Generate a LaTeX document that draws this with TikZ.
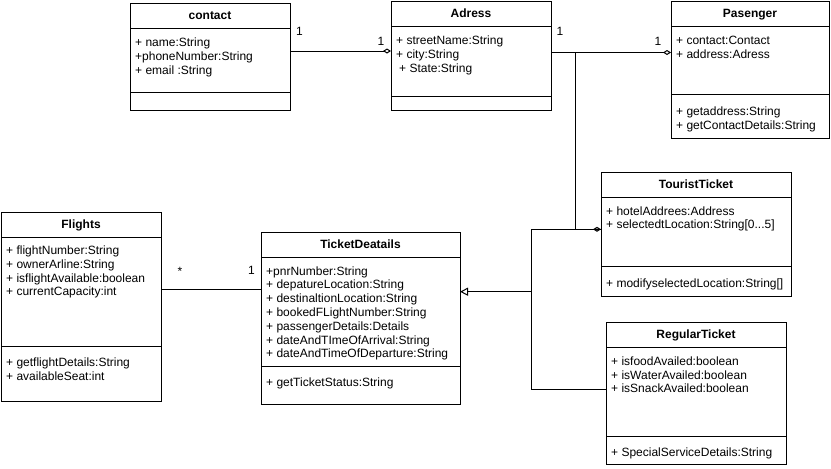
\documentclass[tikz,border=0pt]{standalone}
\usepackage{fontspec}
\setmainfont{Liberation Sans}
\usetikzlibrary{arrows.meta}

% one UML class box: name, x1, y1, x2, y-header-line, y-separator, y2, title
\newcommand{\umlclass}[8]{%
  \node[classbox, minimum width={#4-#2}, minimum height={#7-#3}, anchor=north west] (#1) at (#2,#3) {};
  \draw[umlline] (#2,#5) -- (#4,#5);
  \draw[umlline] (#2,#6) -- (#4,#6);
  \node[titletext] (#1-title) at ({(#2+#4)/2},{(#3+#5)/2+4.3}) {#8};
}
% one member line: x, baseline y, text
\newcommand{\member}[3]{%
  \node[membertext] at (#1,#2) {#3};
}

\begin{document}
\begin{tikzpicture}[x=1pt,y=-1pt,
  umlline/.style={draw=black, line width=1pt},
  classbox/.style={draw=black, line width=1pt, fill=white, inner sep=0pt, outer sep=0pt},
  titletext/.style={font=\fontsize{12}{14}\selectfont\bfseries, anchor=base, inner sep=0pt},
  membertext/.style={font=\fontsize{12}{14}\selectfont, anchor=base west, inner sep=0pt},
  multlabel/.style={font=\fontsize{12}{14}\selectfont, inner sep=0pt},
  assoc/.style={umlline, -{Diamond[open, length=8pt, width=5pt, line width=1pt]}},
  assocdark/.style={umlline, -{Diamond[length=8pt, width=5pt, line width=1pt, fill=gray!60]}},
  inherit/.style={umlline, -{Triangle[open, length=8pt, width=8pt, line width=1pt]}},
]
\useasboundingbox[fill=white] (0,0) rectangle (831,469);

% ---- classes ----
\umlclass{contact}{130}{3}{290}{28}{92}{110}{contact}
\member{135}{46}{+ name:String}
\member{135}{60}{+phoneNumber:String}
\member{135}{74}{+ email :String}

\umlclass{adress}{391}{1}{551}{26}{96}{110}{Adress}
\member{396}{44}{+ streetName:String}
\member{396}{58}{+ city:String}
\member{399}{72}{+ State:String}

\umlclass{pasenger}{671}{1}{829}{26}{94}{138}{Pasenger}
\member{676}{44}{+ contact:Contact}
\member{676}{58}{+ address:Adress}
\member{676}{115.5}{+ getaddress:String}
\member{676}{129.5}{+ getContactDetails:String}

\umlclass{flights}{1}{212}{161}{237}{346}{401}{Flights}
\member{6}{254.5}{+ flightNumber:String}
\member{6}{268.3}{+ ownerArline:String}
\member{6}{282.1}{+ isflightAvailable:boolean}
\member{6}{295.9}{+ currentCapacity:int}
\member{6}{366.5}{+ getflightDetails:String}
\member{6}{380.3}{+ availableSeat:int}

\umlclass{tdetails}{261}{232}{460}{257}{366}{404}{TicketDeatails}
\member{266}{275}{+pnrNumber:String}
\member{266}{288.8}{+ depatureLocation:String}
\member{266}{302.6}{+ destinaltionLocation:String}
\member{266}{316.4}{+ bookedFLightNumber:String}
\member{266}{330.2}{+ passengerDetails:Details}
\member{266}{344}{+ dateAndTImeOfArrival:String}
\member{266}{357.8}{+ dateAndTimeOfDeparture:String}
\member{266}{386.5}{+ getTicketStatus:String}

\umlclass{tourist}{601}{172}{791}{197}{266}{296}{TouristTicket}
\member{606}{215}{+ hotelAddrees:Address}
\member{606}{228.8}{+ selectedtLocation:String[0...5]}
\member{606}{287}{+ modifyselectedLocation:String[]}

\umlclass{regular}{606}{322}{786}{347}{436}{464}{RegularTicket}
\member{611}{365.3}{+ isfoodAvailed:boolean}
\member{611}{379.1}{+ isWaterAvailed:boolean}
\member{611}{392.9}{+ isSnackAvailed:boolean}
\member{611}{456.7}{+ SpecialServiceDetails:String}

% ---- associations ----
\draw[assoc] (contact.east |- 0,51) -- (adress.west |- 0,51);
\node[multlabel] (m1) at (299.5,31) {1};
\node[multlabel] (m2) at (381,41) {1};

\draw[assoc] (adress.east |- 0,52.5) -- (pasenger.west |- 0,52.5);
\node[multlabel] (m3) at (560,31) {1};
\node[multlabel] (m4) at (658,41) {1};

\draw[assocdark] (adress.east |- 0,52.5) -- (575.7,52.5) -- (575.7,229.3) -- (tourist.west |- 0,229.3);

\draw[umlline] (flights.east |- 0,289) -- (tdetails.west |- 0,289);
\node[multlabel] (m5) at (180,271) {*};
\node[multlabel] (m6) at (251.5,270) {1};

% ---- generalisation ----
\coordinate (split) at (531,291.7);
\draw[umlline] (tourist.west |- 0,229.3) -- (531,229.3) -- (split);
\draw[umlline] (regular.west |- 0,389) -- (531,389) -- (split);
\draw[inherit] (split) -- (tdetails.east |- split);
\end{tikzpicture}
\end{document}
